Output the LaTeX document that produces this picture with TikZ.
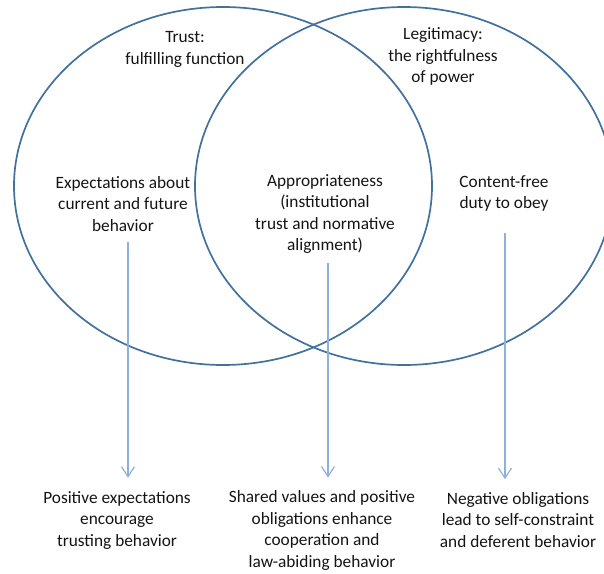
\documentclass[tikz,border=0pt]{standalone}
\usepackage{fontspec}
\setmainfont{Carlito}
\usetikzlibrary{arrows.meta}
\definecolor{ringblue}{HTML}{41719C}
\definecolor{arrowblue}{HTML}{8EB0DC}
\begin{document}
\begin{tikzpicture}[x=1pt,y=-1pt,
    lbl/.style={align=center,inner sep=0pt,text=black!92,
      font=\fontsize{17.3}{21.5}\selectfont},
    flow/.style={arrowblue,line width=1.2pt,
      -{Straight Barb[length=10pt,width=13pt]}}]
\useasboundingbox (0,0) rectangle (604,573);
\clip (0,0) rectangle (604,573);

% the two overlapping rings
\draw[ringblue,line width=1.7pt] (223,186) ellipse (209 and 179);
\draw[ringblue,line width=1.7pt] (404,186) ellipse (209 and 179);

% ring titles
\node[lbl] (trust) at (185,49.5) {Trust:\\fulfilling function};
\node[lbl] (legit) at (443,56.5) {Legitimacy:\\the rightfulness\\of power};

% inner labels
\node[lbl] (expect) at (123,204) {Expectations about\\current and future\\behavior};
\node[lbl] (approp) at (325,214) {Appropriateness\\(institutional\\trust and normative\\alignment)};
\node[lbl] (duty) at (504,193.5) {Content-free\\duty to obey};

% outcomes
\node[lbl] (posexp) at (117,520) {Positive expectations\\encourage\\trusting behavior};
\node[lbl] (shared) at (322,530.5) {Shared values and positive\\obligations enhance\\cooperation and\\law-abiding behavior};
\node[lbl] (negobl) at (518,520) {Negative obligations\\lead to self-constraint\\and deferent behavior};

\coordinate (tailE) at (128,242);
\coordinate (tailA) at (328,263);
\coordinate (tailD) at (505,233);
\draw[flow] (tailE) -- ([yshift=13pt]tailE |- posexp.north);
\draw[flow] (tailA) -- ([yshift=13pt]tailA |- shared.north);
\draw[flow] (tailD) -- ([yshift=13pt]tailD |- negobl.north);

\end{tikzpicture}
\end{document}
